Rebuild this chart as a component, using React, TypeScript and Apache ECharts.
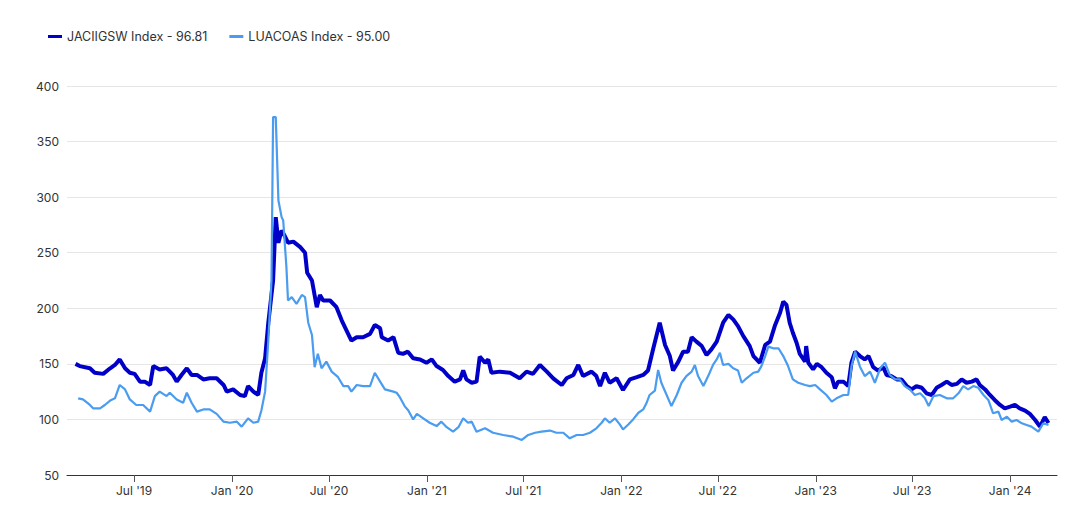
import React, { useEffect, useRef } from "react";
import * as echarts from "echarts";

const seriesNames = ["JACIIGSW Index - 96.81", "LUACOAS Index - 95.00"];
const seriesColors = ["#0000c8", "#4a9cf0"];

const axisStart = "2019-02-25";
const axisEnd = "2024-03-29";

const tickDates = [
  "2019-07-01", "2020-01-01", "2020-07-01", "2021-01-01", "2021-07-01",
  "2022-01-01", "2022-07-01", "2023-01-01", "2023-07-01", "2024-01-01",
];
const tickLabels = [
  "Jul '19", "Jan '20", "Jul '20", "Jan '21", "Jul '21",
  "Jan '22", "Jul '22", "Jan '23", "Jul '23", "Jan '24",
];

const yMin = 50;
const yMax = 400;
const yStep = 50;

const jaciigsw: [string, number][] = [
  ["2019-03-13", 150], ["2019-03-21", 148], ["2019-04-09", 146], ["2019-04-18", 142], ["2019-05-04", 141],
  ["2019-05-17", 146], ["2019-05-26", 149], ["2019-06-04", 154], ["2019-06-14", 146], ["2019-06-23", 142],
  ["2019-07-02", 141], ["2019-07-12", 134], ["2019-07-21", 134], ["2019-07-31", 131], ["2019-08-06", 148],
  ["2019-08-18", 145], ["2019-08-31", 146], ["2019-09-12", 140], ["2019-09-19", 134], ["2019-09-28", 140],
  ["2019-10-08", 146], ["2019-10-17", 140], ["2019-10-27", 140], ["2019-11-08", 136], ["2019-11-20", 137],
  ["2019-12-03", 137], ["2019-12-16", 131], ["2019-12-22", 125], ["2020-01-03", 127], ["2020-01-16", 122],
  ["2020-01-25", 121], ["2020-01-31", 130], ["2020-02-10", 125], ["2020-02-19", 122], ["2020-02-25", 142],
  ["2020-03-03", 155], ["2020-03-09", 187], ["2020-03-18", 225], ["2020-03-23", 282], ["2020-03-28", 259],
  ["2020-04-03", 270], ["2020-04-09", 265], ["2020-04-15", 259], ["2020-04-25", 260], ["2020-05-08", 255],
  ["2020-05-17", 250], ["2020-05-21", 232], ["2020-05-30", 225], ["2020-06-08", 201], ["2020-06-14", 212],
  ["2020-06-20", 207], ["2020-07-03", 207], ["2020-07-15", 201], ["2020-07-25", 189], ["2020-08-03", 180],
  ["2020-08-12", 171], ["2020-08-22", 174], ["2020-09-03", 174], ["2020-09-16", 177], ["2020-09-25", 185],
  ["2020-10-05", 182], ["2020-10-08", 174], ["2020-10-20", 171], ["2020-10-30", 174], ["2020-11-08", 160],
  ["2020-11-17", 159], ["2020-11-26", 161], ["2020-12-06", 155], ["2020-12-19", 154], ["2020-12-31", 151],
  ["2021-01-10", 154], ["2021-01-19", 148], ["2021-01-31", 144.5], ["2021-02-10", 139], ["2021-02-22", 134],
  ["2021-03-04", 136], ["2021-03-10", 144], ["2021-03-16", 136], ["2021-03-26", 133], ["2021-04-04", 134],
  ["2021-04-10", 156.5], ["2021-04-20", 151], ["2021-04-26", 154], ["2021-05-02", 142], ["2021-05-18", 143],
  ["2021-06-06", 142], ["2021-06-24", 137], ["2021-07-07", 143], ["2021-07-19", 141], ["2021-08-01", 149],
  ["2021-08-14", 143], ["2021-08-26", 137], ["2021-09-11", 131], ["2021-09-20", 137], ["2021-10-03", 140],
  ["2021-10-12", 149], ["2021-10-21", 139], ["2021-11-06", 143], ["2021-11-15", 139], ["2021-11-22", 130],
  ["2021-12-01", 142], ["2021-12-10", 133], ["2021-12-23", 137], ["2022-01-04", 126.5], ["2022-01-17", 136],
  ["2022-01-30", 138], ["2022-02-11", 140], ["2022-02-20", 144], ["2022-03-02", 164], ["2022-03-14", 187],
  ["2022-03-24", 167], ["2022-04-02", 157], ["2022-04-08", 144], ["2022-04-18", 152], ["2022-04-27", 161],
  ["2022-05-06", 161], ["2022-05-13", 174], ["2022-05-22", 170], ["2022-06-01", 166], ["2022-06-10", 158],
  ["2022-06-19", 163], ["2022-06-29", 170], ["2022-07-11", 187], ["2022-07-21", 194], ["2022-07-30", 190],
  ["2022-08-08", 184], ["2022-08-18", 175], ["2022-08-30", 166], ["2022-09-06", 157], ["2022-09-18", 151],
  ["2022-09-28", 167], ["2022-10-07", 170], ["2022-10-16", 184], ["2022-10-26", 196], ["2022-11-01", 206],
  ["2022-11-07", 203], ["2022-11-13", 187], ["2022-11-19", 178], ["2022-11-26", 169], ["2022-12-02", 159],
  ["2022-12-12", 152], ["2022-12-14", 166], ["2022-12-18", 151], ["2022-12-27", 145], ["2023-01-03", 150],
  ["2023-01-12", 147], ["2023-01-21", 142], ["2023-01-31", 138], ["2023-02-06", 128], ["2023-02-12", 134],
  ["2023-02-22", 134], ["2023-03-03", 130], ["2023-03-09", 151], ["2023-03-16", 161], ["2023-03-25", 157],
  ["2023-04-03", 154], ["2023-04-10", 157], ["2023-04-19", 147], ["2023-04-28", 144], ["2023-05-08", 147],
  ["2023-05-14", 140], ["2023-05-23", 139], ["2023-06-02", 136], ["2023-06-11", 136], ["2023-06-21", 130],
  ["2023-06-30", 127], ["2023-07-09", 130], ["2023-07-19", 128.5], ["2023-07-28", 123.5], ["2023-08-07", 122],
  ["2023-08-16", 128.5], ["2023-08-25", 131], ["2023-09-04", 134], ["2023-09-13", 131], ["2023-09-23", 132],
  ["2023-10-02", 136], ["2023-10-11", 133], ["2023-10-21", 134], ["2023-10-30", 136], ["2023-11-05", 131],
  ["2023-11-15", 127], ["2023-11-24", 122], ["2023-12-03", 117.5], ["2023-12-13", 113], ["2023-12-22", 110],
  ["2024-01-01", 111.5], ["2024-01-10", 113], ["2024-01-19", 110], ["2024-01-29", 108], ["2024-02-07", 105],
  ["2024-02-17", 99.5], ["2024-02-26", 93.5], ["2024-03-06", 102], ["2024-03-13", 96.81],
];

const luacoas: [string, number][] = [
  ["2019-03-18", 119], ["2019-03-27", 118], ["2019-04-09", 113], ["2019-04-15", 110], ["2019-04-28", 110],
  ["2019-05-07", 113], ["2019-05-17", 117], ["2019-05-26", 119], ["2019-06-04", 131], ["2019-06-14", 127],
  ["2019-06-23", 118], ["2019-07-05", 113], ["2019-07-18", 113], ["2019-07-31", 107], ["2019-08-09", 121],
  ["2019-08-18", 125], ["2019-08-31", 121], ["2019-09-06", 124], ["2019-09-19", 118], ["2019-10-01", 115],
  ["2019-10-08", 124], ["2019-10-17", 115], ["2019-10-27", 107], ["2019-11-08", 109], ["2019-11-20", 109],
  ["2019-12-03", 105], ["2019-12-16", 98], ["2019-12-28", 97], ["2020-01-10", 98], ["2020-01-19", 93.5],
  ["2020-01-31", 101], ["2020-02-10", 97], ["2020-02-19", 98], ["2020-02-25", 108], ["2020-03-03", 125],
  ["2020-03-09", 171], ["2020-03-15", 225], ["2020-03-18", 372], ["2020-03-23", 372], ["2020-03-28", 297],
  ["2020-04-03", 282], ["2020-04-06", 279], ["2020-04-12", 237], ["2020-04-15", 207], ["2020-04-22", 210],
  ["2020-05-01", 204], ["2020-05-11", 212], ["2020-05-17", 210], ["2020-05-23", 187], ["2020-05-30", 176],
  ["2020-06-04", 147], ["2020-06-10", 159], ["2020-06-17", 146], ["2020-06-26", 152], ["2020-07-06", 143],
  ["2020-07-18", 138], ["2020-07-28", 130], ["2020-08-06", 130], ["2020-08-12", 125], ["2020-08-22", 131],
  ["2020-09-03", 130], ["2020-09-16", 130], ["2020-09-25", 142], ["2020-10-05", 134], ["2020-10-14", 127],
  ["2020-10-30", 125], ["2020-11-05", 124], ["2020-11-11", 120], ["2020-11-20", 112], ["2020-11-27", 108],
  ["2020-12-06", 100], ["2020-12-13", 105], ["2020-12-25", 101], ["2021-01-06", 97], ["2021-01-19", 94],
  ["2021-01-28", 98], ["2021-02-07", 93], ["2021-02-19", 89], ["2021-03-01", 93], ["2021-03-10", 101],
  ["2021-03-19", 97], ["2021-03-26", 98], ["2021-04-04", 89], ["2021-04-20", 92], ["2021-05-05", 88],
  ["2021-05-24", 86], ["2021-06-12", 84.5], ["2021-06-28", 81.5], ["2021-07-10", 86], ["2021-07-23", 88],
  ["2021-08-04", 89], ["2021-08-20", 90], ["2021-09-01", 88], ["2021-09-14", 88], ["2021-09-26", 83],
  ["2021-10-09", 86], ["2021-10-21", 86], ["2021-11-03", 88], ["2021-11-15", 92], ["2021-11-25", 97],
  ["2021-12-01", 101], ["2021-12-10", 97], ["2021-12-20", 101], ["2021-12-29", 95.5], ["2022-01-04", 91],
  ["2022-01-14", 95.5], ["2022-01-23", 100], ["2022-02-02", 106], ["2022-02-11", 109], ["2022-02-17", 114.5],
  ["2022-02-23", 122], ["2022-03-05", 126], ["2022-03-11", 144.5], ["2022-03-17", 133], ["2022-03-27", 122],
  ["2022-04-05", 112], ["2022-04-15", 122], ["2022-04-24", 133], ["2022-05-03", 139], ["2022-05-13", 143],
  ["2022-05-19", 149], ["2022-05-25", 139], ["2022-06-04", 130], ["2022-06-13", 139], ["2022-06-22", 149],
  ["2022-06-29", 154], ["2022-07-05", 160], ["2022-07-11", 149], ["2022-07-21", 150], ["2022-07-30", 146],
  ["2022-08-08", 144], ["2022-08-15", 133], ["2022-08-24", 137], ["2022-09-06", 142], ["2022-09-15", 143],
  ["2022-09-21", 148], ["2022-09-28", 157], ["2022-10-04", 165.5], ["2022-10-13", 164], ["2022-10-23", 164],
  ["2022-11-01", 157], ["2022-11-10", 148], ["2022-11-19", 136], ["2022-11-29", 133], ["2022-12-12", 131],
  ["2022-12-21", 130], ["2022-12-31", 131], ["2023-01-09", 127], ["2023-01-21", 122], ["2023-01-31", 116],
  ["2023-02-09", 119], ["2023-02-22", 122], ["2023-03-03", 122], ["2023-03-09", 147.5], ["2023-03-16", 161],
  ["2023-03-25", 147.5], ["2023-04-03", 139], ["2023-04-13", 143], ["2023-04-22", 133], ["2023-05-02", 146],
  ["2023-05-11", 151], ["2023-05-20", 140], ["2023-05-30", 136], ["2023-06-08", 136], ["2023-06-17", 130],
  ["2023-06-27", 127], ["2023-07-06", 122], ["2023-07-16", 123.5], ["2023-07-25", 119], ["2023-08-01", 112],
  ["2023-08-10", 121], ["2023-08-22", 122], ["2023-09-04", 119], ["2023-09-16", 119], ["2023-09-26", 123.5],
  ["2023-10-05", 130], ["2023-10-14", 127], ["2023-10-24", 130], ["2023-11-02", 128.5], ["2023-11-12", 122],
  ["2023-11-21", 117.5], ["2023-11-30", 105.5], ["2023-12-10", 107], ["2023-12-16", 99.5], ["2023-12-26", 102.5],
  ["2024-01-04", 98], ["2024-01-13", 99.5], ["2024-01-23", 96.5], ["2024-02-01", 95], ["2024-02-10", 93.5],
  ["2024-02-23", 89], ["2024-03-03", 96.5], ["2024-03-13", 95],
];

const toTime = (s: string): number => {
  const [y, m, d] = s.split("-").map(Number);
  return Date.UTC(y, m - 1, d);
};

export default function App() {
  const ref = useRef<HTMLDivElement | null>(null);

  useEffect(() => {
    if (!ref.current) return;
    const chart = echarts.init(ref.current, undefined, { renderer: "svg" });
    const tickTimes = tickDates.map(toTime);
    const font = "Inter, 'Noto Sans', sans-serif";

    chart.setOption({
      animation: false,
      backgroundColor: "#ffffff",
      textStyle: { fontFamily: font },
      legend: {
        left: 43,
        top: 25,
        itemWidth: 14,
        itemHeight: 3,
        itemGap: 22,
        icon: "rect",
        textStyle: { fontSize: 12.5, color: "#333333", fontFamily: font },
        data: seriesNames,
      },
      grid: { left: 67, right: 23, top: 86, bottom: 30, containLabel: false },
      xAxis: {
        type: "value",
        min: toTime(axisStart),
        max: toTime(axisEnd),
        axisLine: { show: true, lineStyle: { color: "#333333", width: 1 } },
        axisTick: {
          show: true,
          length: 7,
          customValues: tickTimes,
          lineStyle: { color: "#555555" },
        },
        axisLabel: {
          customValues: tickTimes,
          margin: 9,
          fontSize: 12,
          color: "#333333",
          fontFamily: font,
          hideOverlap: false,
          formatter: (val: number) => {
            const i = tickTimes.findIndex((t) => Math.abs(t - val) < 86400000);
            return i >= 0 ? tickLabels[i] : "";
          },
        },
        splitLine: { show: false },
      },
      yAxis: {
        type: "value",
        min: yMin,
        max: yMax,
        interval: yStep,
        axisLine: { show: false },
        axisTick: { show: false },
        axisLabel: { fontSize: 12, color: "#333333", margin: 8, fontFamily: font },
        splitLine: { lineStyle: { color: "#e6e6e6", width: 1 } },
      },
      series: [
        {
          name: seriesNames[0],
          type: "line",
          data: jaciigsw.map(([d, v]) => [toTime(d), v]),
          symbol: "none",
          lineStyle: { color: seriesColors[0], width: 4 },
          itemStyle: { color: seriesColors[0] },
          z: 3,
        },
        {
          name: seriesNames[1],
          type: "line",
          data: luacoas.map(([d, v]) => [toTime(d), v]),
          symbol: "none",
          lineStyle: { color: seriesColors[1], width: 2.2 },
          itemStyle: { color: seriesColors[1] },
          z: 4,
        },
      ],
    });

    return () => chart.dispose();
  }, []);

  return (
    <div
      ref={ref}
      style={{ position: "fixed", left: 0, top: 0, width: 1080, height: 505 }}
    />
  );
}
